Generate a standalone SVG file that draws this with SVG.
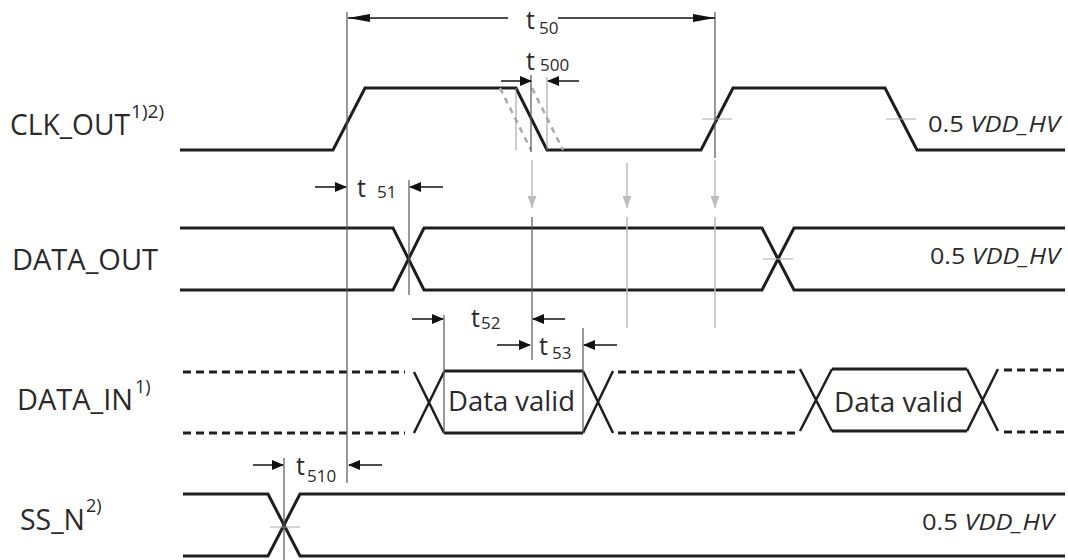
<svg xmlns="http://www.w3.org/2000/svg" width="1068" height="560" viewBox="0 0 1068 560">
<style>
.sig{fill:none;stroke:#1e1e1e;stroke-width:3;stroke-linejoin:miter}
.dash{fill:none;stroke:#1e1e1e;stroke-width:3;stroke-dasharray:8 5}
.xl{fill:none;stroke:#1e1e1e;stroke-width:2.5}
.ghost{fill:none;stroke:#aaa;stroke-width:2.5;stroke-dasharray:6 5}
.vl{stroke:#555;stroke-width:1.2;fill:none}
.vg{stroke:#999;stroke-width:1;fill:none}
.gl{stroke:#bdbdbd;stroke-width:1.5;fill:none}
.tick{stroke:#aaa;stroke-width:1;fill:none}
.dim{stroke:#111;stroke-width:1.5;fill:none;marker-end:url(#ah)}
.dimL{stroke:#111;stroke-width:1.5;fill:none;marker-end:url(#ahL)}
.garr{stroke:#bdbdbd;stroke-width:1.5;fill:none;marker-end:url(#ag)}
.lbl{font-family:"Open Sans","Noto Sans",sans-serif;font-size:29px;fill:#2a2a2a}
.sup{font-family:"Open Sans","Noto Sans",sans-serif;font-size:18px;fill:#2a2a2a}
.vdd{font-family:"Open Sans","Noto Sans",sans-serif;font-size:22px;fill:#2a2a2a}
.dv{font-family:"Open Sans","Noto Sans",sans-serif;font-size:28px;fill:#2a2a2a}
.t{font-family:"Open Sans","Noto Sans",sans-serif;font-size:25px;fill:#2a2a2a}
.sub{font-family:"Open Sans","Noto Sans",sans-serif;font-size:17px;fill:#2a2a2a}
</style>
<defs>
<marker id="ah" markerUnits="userSpaceOnUse" markerWidth="12" markerHeight="10" refX="11" refY="5" orient="auto"><path d="M0,0 L12,5 L0,10 z" fill="#111"/></marker>
<marker id="ahL" markerUnits="userSpaceOnUse" markerWidth="22" markerHeight="8" refX="22" refY="4" orient="auto"><path d="M0,0 L22,4 L0,8 z" fill="#111"/></marker>
<marker id="ag" markerUnits="userSpaceOnUse" markerWidth="12" markerHeight="9" refX="12" refY="4.5" orient="auto"><path d="M0,0 L12,4.5 L0,9 z" fill="#bdbdbd"/></marker>
</defs>

<g id="clk_out">
<text class="lbl" x="10" y="135" textLength="120" lengthAdjust="spacingAndGlyphs">CLK_OUT</text>
<text class="sup" x="131" y="118" textLength="33" lengthAdjust="spacingAndGlyphs">1)2)</text>
<path class="sig" d="M180,150 L333,150 L365,88 L516,88 L547,150 L701,150 L733,88 L885,88 L917,150 L1065,150"/>
<path class="ghost" d="M500,88 L531,150"/>
<path class="ghost" d="M532,88 L563,150"/>
<line class="vg" x1="516" y1="88" x2="516" y2="150"/>
<line class="vg" x1="547" y1="77" x2="547" y2="150"/>
<line class="tick" x1="702" y1="119" x2="732" y2="119"/>
<line class="tick" x1="886" y1="119" x2="916" y2="119"/>
<text class="vdd" x="928" y="132" textLength="132" lengthAdjust="spacingAndGlyphs">0.5 <tspan font-style="italic">VDD_HV</tspan></text>
</g>

<g id="data_out">
<text class="lbl" x="12" y="270" textLength="146" lengthAdjust="spacingAndGlyphs">DATA_OUT</text>
<path class="sig" d="M180,228 L393,228 L424,290 L762,290 L794,228 L1065,228"/>
<path class="sig" d="M180,290 L393,290 L424,228 L762,228 L794,290 L1065,290"/>
<line class="tick" x1="763" y1="259" x2="793" y2="259"/>
<text class="vdd" x="930" y="264" textLength="130" lengthAdjust="spacingAndGlyphs">0.5 <tspan font-style="italic">VDD_HV</tspan></text>
</g>

<g id="data_in">
<text class="lbl" x="17" y="410" textLength="116" lengthAdjust="spacingAndGlyphs">DATA_IN</text>
<text class="sup" x="135" y="393">1)</text>
<path class="dash" d="M183,372 L405,372"/>
<path class="dash" d="M183,433 L405,433"/>
<path class="xl" d="M414,372 L444,433 M414,433 L444,372"/>
<path class="sig" d="M444,371 L583,371 M444,433 L583,433"/>
<path class="xl" d="M583,371 L613,433 M583,433 L613,371"/>
<path class="dash" d="M618,372 L800,372"/>
<path class="dash" d="M618,433 L800,433"/>
<path class="xl" d="M800,369 L832,431 M800,431 L832,369"/>
<path class="sig" d="M832,369 L967,369 M832,431 L967,431"/>
<path class="xl" d="M967,369 L998,431 M967,431 L998,369"/>
<path class="dash" d="M1004,370 L1065,370"/>
<path class="dash" d="M1004,432 L1065,432"/>
<text class="dv" x="448" y="411" textLength="127" lengthAdjust="spacingAndGlyphs">Data valid</text>
<text class="dv" x="834" y="412" textLength="129" lengthAdjust="spacingAndGlyphs">Data valid</text>
</g>

<g id="ss_n">
<text class="lbl" x="20" y="530" textLength="65" lengthAdjust="spacingAndGlyphs">SS_N</text>
<text class="sup" x="86" y="512">2)</text>
<path class="sig" d="M183,494 L268,494 L300,556 L1065,556"/>
<path class="sig" d="M183,556 L268,556 L300,494 L1065,494"/>
<line class="tick" x1="270" y1="527" x2="300" y2="527"/>
<text class="vdd" x="922" y="530" textLength="132" lengthAdjust="spacingAndGlyphs">0.5 <tspan font-style="italic">VDD_HV</tspan></text>
</g>

<g id="connectors">
<line class="vl" x1="347" y1="12" x2="347" y2="483"/>
<line class="vl" x1="715" y1="12" x2="715" y2="158"/>
<line class="vl" x1="531" y1="75" x2="531" y2="152"/>
<line class="vl" x1="409" y1="180" x2="409" y2="295"/>
<line class="vl" x1="532" y1="217" x2="532" y2="360"/>
<line class="vl" x1="444" y1="315" x2="444" y2="433"/>
<line class="vl" x1="583" y1="328" x2="583" y2="433"/>
<line class="vl" x1="284" y1="458" x2="284" y2="560"/>
<line class="garr" x1="532" y1="160" x2="532" y2="208"/>
<line class="garr" x1="627" y1="163" x2="627" y2="208"/>
<line class="garr" x1="715" y1="160" x2="715" y2="208"/>
<line class="gl" x1="627" y1="217" x2="627" y2="328"/>
<line class="gl" x1="715" y1="217" x2="715" y2="328"/>

<line class="dimL" x1="508" y1="18" x2="348" y2="18"/>
<line class="dimL" x1="558" y1="18" x2="715" y2="18"/>
<text class="t" x="526" y="29">t</text><text class="sub" x="539" y="34">50</text>

<line class="dim" x1="501" y1="81" x2="531" y2="81"/>
<line class="dim" x1="579" y1="81" x2="548" y2="81"/>
<text class="t" x="526" y="70">t</text><text class="sub" x="540" y="71">500</text>

<line class="dim" x1="315" y1="187" x2="346" y2="187"/>
<line class="dim" x1="443" y1="187" x2="410" y2="187"/>
<text class="t" x="357" y="197">t</text><text class="sub" x="377" y="198">51</text>

<line class="dim" x1="412" y1="319" x2="443" y2="319"/>
<line class="dim" x1="565" y1="319" x2="533" y2="319"/>
<text class="t" x="471" y="327">t</text><text class="sub" x="481" y="329">52</text>

<line class="dim" x1="497" y1="345" x2="530" y2="345"/>
<line class="dim" x1="617" y1="345" x2="584" y2="345"/>
<text class="t" x="539" y="355">t</text><text class="sub" x="552" y="359">53</text>

<line class="dim" x1="253" y1="465" x2="283" y2="465"/>
<line class="dim" x1="382" y1="465" x2="349" y2="465"/>
<text class="t" x="296" y="475">t</text><text class="sub" x="307" y="482">510</text>
</g>
</svg>
